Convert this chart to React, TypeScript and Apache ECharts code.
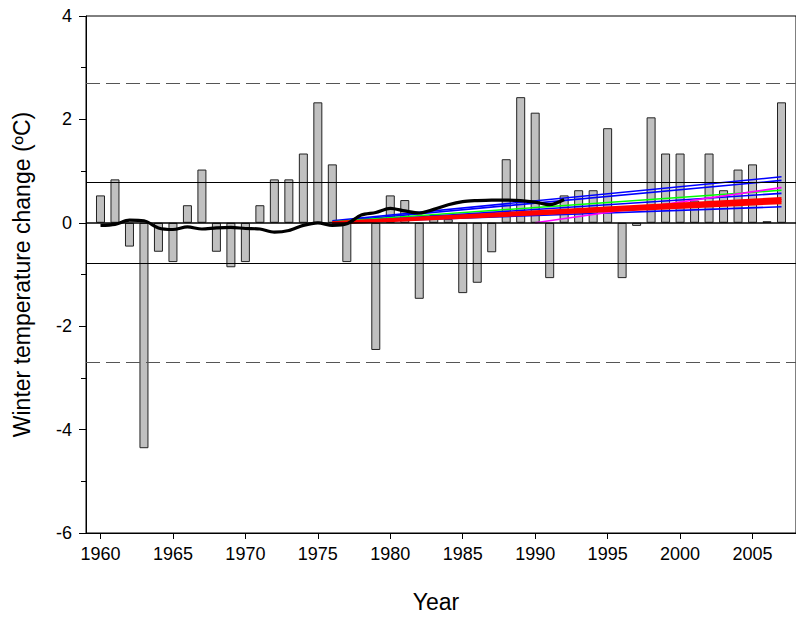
import React, { useEffect, useRef } from "react";
import * as echarts from "echarts";

// Winter temperature anomaly per year (bars)
const years: number[] = [
  1960, 1961, 1962, 1963, 1964, 1965, 1966, 1967, 1968, 1969,
  1970, 1971, 1972, 1973, 1974, 1975, 1976, 1977, 1978, 1979,
  1980, 1981, 1982, 1983, 1984, 1985, 1986, 1987, 1988, 1989,
  1990, 1991, 1992, 1993, 1994, 1995, 1996, 1997, 1998, 1999,
  2000, 2001, 2002, 2003, 2004, 2005, 2006, 2007,
];
const anomalies: number[] = [
  0.53, 0.84, -0.46, -4.36, -0.56, -0.76, 0.34, 1.03, -0.56, -0.86,
  -0.76, 0.34, 0.84, 0.84, 1.34, 2.33, 1.13, -0.76, 0.1, -2.46,
  0.53, 0.44, -1.47, 0.15, 0.07, -1.36, -1.16, -0.57, 1.23, 2.43,
  2.13, -1.07, 0.53, 0.63, 0.63, 1.83, -1.07, -0.06, 2.04, 1.34,
  1.34, 0.43, 1.34, 0.63, 1.03, 1.13, 0.03, 2.33,
];

// Smoothed curve (black), 1960-1992
const smoothYears: number[] = [
  1960, 1961, 1962, 1963, 1964, 1965, 1966, 1967, 1968, 1969,
  1970, 1971, 1972, 1973, 1974, 1975, 1976, 1977, 1978, 1979,
  1980, 1981, 1982, 1983, 1984, 1985, 1986, 1987, 1988, 1989,
  1990, 1991, 1992,
];
const smoothValues: number[] = [
  -0.05, -0.03, 0.05, 0.04, -0.1, -0.13, -0.08, -0.12, -0.1, -0.09,
  -0.11, -0.12, -0.18, -0.15, -0.05, 0.0, -0.05, -0.02, 0.15, 0.2,
  0.28, 0.23, 0.19, 0.26, 0.35, 0.41, 0.43, 0.44, 0.44, 0.43,
  0.4, 0.35, 0.45,
];

// Projected trend lines: start (year, value) to end (year, value)
const trendColors: string[] = ["#0000ff", "#0000ff", "#00ff00", "#0000ff", "#0000ff", "#ff00ff", "#ff0000", "#ff0000", "#ff0000"];
const trendWidths: number[] = [1.6, 1.6, 1.6, 1.6, 1.6, 1.6, 3, 3, 3];
const trendStartYears: number[] = [1976, 1976, 1976, 1976, 1976, 1990, 1976, 1976, 1976];
const trendStartValues: number[] = [0.04, 0.02, 0.02, 0.0, 0.0, 0.0, 0.0, 0.0, -0.01];
const trendEndYears: number[] = [2007, 2007, 2007, 2007, 2007, 2007, 2007, 2007, 2007];
const trendEndValues: number[] = [0.89, 0.82, 0.63, 0.57, 0.31, 0.68, 0.47, 0.43, 0.39];

// Reference levels
const solidLevels: number[] = [0.78, 0, -0.78];
const dashedLevels: number[] = [2.7, -2.7];

const xTickYears: number[] = [1960, 1965, 1970, 1975, 1980, 1985, 1990, 1995, 2000, 2005];

export default function App() {
  const ref = useRef<HTMLDivElement>(null);

  useEffect(() => {
    if (!ref.current) return;
    const chart = echarts.init(ref.current, null, { renderer: "svg" });
    const font = "Liberation Sans, Arial, sans-serif";

    const trendSeries = trendColors.map((c, i) => ({
      type: "line" as const,
      data: [
        [trendStartYears[i], trendStartValues[i]],
        [trendEndYears[i], trendEndValues[i]],
      ],
      symbol: "none",
      lineStyle: { color: c, width: trendWidths[i] },
      z: 4,
      silent: true,
    }));

    chart.setOption({
      animation: false,
      backgroundColor: "#ffffff",
      grid: {
        left: 86,
        top: 16,
        width: 719,
        height: 517,
        show: true,
        borderColor: "#000",
        borderWidth: 1,
        backgroundColor: "transparent",
      },
      xAxis: {
        type: "value",
        min: 1959,
        max: 2008,
        axisLine: { show: true, onZero: false, lineStyle: { color: "#000", width: 1 } },
        axisTick: {
          show: true,
          inside: false,
          length: 6,
          customValues: xTickYears,
          lineStyle: { color: "#000" },
        },
        axisLabel: {
          customValues: xTickYears,
          color: "#000",
          fontSize: 18,
          fontFamily: font,
          margin: 12,
          formatter: (v: number) => String(v),
        },
        splitLine: { show: false },
      },
      yAxis: {
        type: "value",
        min: -6,
        max: 4,
        interval: 2,
        name: "Winter temperature change (ºC)",
        nameLocation: "middle",
        nameGap: 53,
        nameRotate: 90,
        nameTextStyle: { color: "#000", fontSize: 23, fontFamily: font },
        axisLine: { show: true, lineStyle: { color: "#000", width: 1 } },
        axisTick: { show: true, inside: false, length: 7, lineStyle: { color: "#000" } },
        minorTick: { show: true, splitNumber: 2, length: 5, lineStyle: { color: "#000" } },
        axisLabel: { color: "#000", fontSize: 18, fontFamily: font, margin: 14 },
        splitLine: { show: false },
      },
      graphic: [
        {
          type: "text",
          x: 436,
          y: 590,
          style: { text: "Year", fill: "#000", fontSize: 23, fontFamily: font, textAlign: "center" },
        },
      ],
      series: [
        {
          type: "bar",
          data: years.map((y, i) => [y, anomalies[i]]),
          barWidth: 9,
          itemStyle: { color: "#c0c0c0", borderColor: "#222", borderWidth: 1 },
          z: 2,
          silent: true,
          markLine: {
            silent: true,
            symbol: "none",
            label: { show: false },
            data: [
              ...solidLevels.map((v) => ({
                yAxis: v,
                lineStyle: { color: "#000", width: v === 0 ? 1.5 : 1, type: "solid" as const },
              })),
              ...dashedLevels.map((v) => ({
                yAxis: v,
                lineStyle: { color: "#555", width: 1, type: [14, 6] },
              })),
            ],
          },
        },
        ...trendSeries,
        {
          type: "line",
          data: smoothYears.map((y, i) => [y, smoothValues[i]]),
          symbol: "none",
          smooth: 0.3,
          lineStyle: { color: "#000", width: 3.2 },
          z: 5,
          silent: true,
        },
      ],
    });

    return () => chart.dispose();
  }, []);

  return (
    <div
      ref={ref}
      style={{ position: "absolute", left: 0, top: 0, width: 796, height: 617, overflow: "hidden" }}
    />
  );
}
